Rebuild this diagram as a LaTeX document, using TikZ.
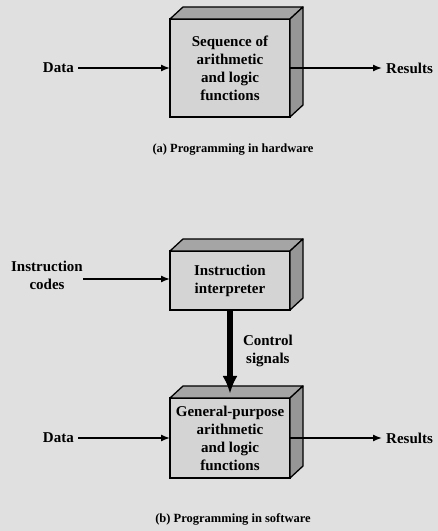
\documentclass[tikz,border=0pt]{standalone}
\usepackage{fontspec}
\setmainfont{Liberation Serif}
\usepackage{tikz}
\usetikzlibrary{arrows.meta}
\usetikzlibrary{positioning}
\usetikzlibrary{calc}
\definecolor{mybg}{RGB}{224,224,224}
\definecolor{myfront}{RGB}{212,212,212}
\definecolor{mytop}{RGB}{165,165,165}
\definecolor{myside}{RGB}{150,150,150}
\newcommand\mybox[4][]{%
  \node[mybox,#1,minimum height=#2] (#3) {#4};
  \draw[face,fill=mytop] (#3.north west) -- ++(13,12) -- ($(#3.north east)+(13,12)$) -- (#3.north east) -- cycle;
  \draw[face,fill=myside] (#3.north east) -- ++(13,12) -- ($(#3.south east)+(13,12)$) -- (#3.south east) -- cycle;
}

\begin{document}
\begin{tikzpicture}[x=1pt, y=1pt, >={Latex[length=9pt,width=7pt]},
node distance=92pt,
mybox/.style={
  draw,
  line width=1.3pt,
  outer sep=0pt,
  fill=myfront,
  minimum width=120pt,
  align=center,
  font=\fontsize{15}{18}\selectfont\bfseries},
face/.style={line width=1.3pt, line join=round},
lbl/.style={align=center, inner xsep=4pt, inner ysep=2pt, font=\fontsize{15}{18.5}\selectfont\bfseries},
captxt/.style={font=\fontsize{12.5}{14}\selectfont\bfseries},
flow/.style={->, line width=1.4pt}
]
\useasboundingbox[fill=mybg] (0,0) rectangle (438,531);

% (a) hardware
\mybox[at={(230,463)}]{98pt}{hw}{Sequence of\\arithmetic\\and logic\\functions}
\node[lbl,left=of hw] (data1) {Data};
\node[lbl,right=of hw] (res1) {Results};
\draw[flow] (data1) -- (hw);
\draw[flow] (hw) -- (res1);
\node[captxt] (capa) at (233,381) {(a) Programming in hardware};

% (b) software
\mybox[at={(230,250.5)}]{59pt}{interp}{Instruction\\interpreter}
\mybox[at={(230,93)}]{80pt}{gp}{General-purpose\\arithmetic\\and logic\\functions}
\node[lbl] (codes) at (47,255.5) {Instruction\\codes};
\node[lbl,left=of gp] (data2) {Data};
\node[lbl,right=of gp] (res2) {Results};
\coordinate (gptop) at ($(gp.north)+(0,4)$);
\draw[line width=6pt,-{Latex[length=18pt,width=15pt]}] (interp.south) -- (gptop)
  node[lbl,midway,right=6pt,yshift=1pt] (ctrl) {Control\\signals};
\draw[flow] ([xshift=-4pt,yshift=-3.5pt]codes.east) -- ([yshift=-3.5pt]codes.east -| interp.west);
\draw[flow] (data2) -- (gp);
\draw[flow] (gp) -- (res2);
\node[captxt] (capb) at (233,12) {(b) Programming in software};

\end{tikzpicture}
\end{document}
